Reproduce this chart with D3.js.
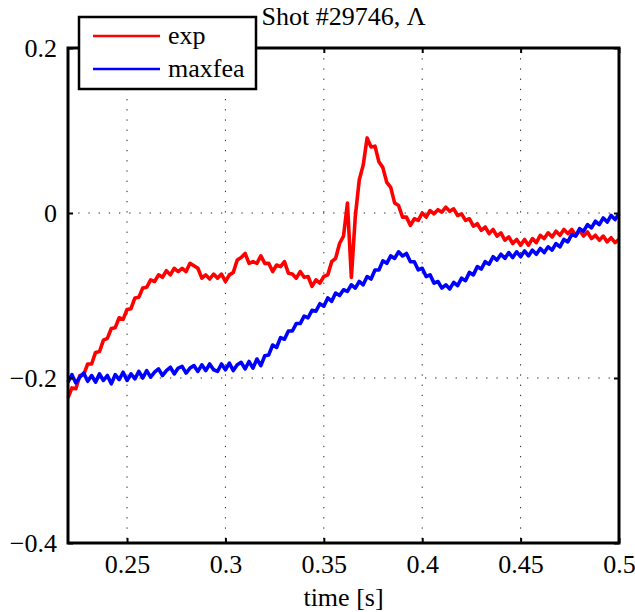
<!DOCTYPE html>
<html>
<head>
<meta charset="utf-8">
<script src="https://cdn.jsdelivr.net/npm/d3@7"></script>
<style>
  body { margin: 0; background: #fff; }
  svg text { font-family: "Liberation Serif", "Times New Roman", Times, "DejaVu Serif", serif; }
</style>
</head>
<body>
<script>
// Sampling of both traces: t = tStart + i * tStep
const tStart = 0.22;
const tStep = 0.002;

// exp trace (red)
const expValues = [
  -0.224, -0.212, -0.213, -0.197, -0.196, -0.183, -0.183, -0.169, -0.168, -0.154,
  -0.152, -0.140, -0.139, -0.127, -0.129, -0.117, -0.116, -0.103, -0.102, -0.091,
  -0.090, -0.081, -0.083, -0.075, -0.078, -0.070, -0.075, -0.067, -0.071, -0.067,
  -0.071, -0.061, -0.064, -0.067, -0.079, -0.075, -0.080, -0.074, -0.079, -0.074,
  -0.083, -0.075, -0.072, -0.057, -0.054, -0.049, -0.061, -0.059, -0.061, -0.052,
  -0.061, -0.061, -0.071, -0.063, -0.065, -0.059, -0.073, -0.074, -0.079, -0.071,
  -0.078, -0.077, -0.089, -0.081, -0.085, -0.077, -0.075, -0.059, -0.055, -0.037,
  -0.028, 0.012, -0.078, -0.004, 0.040, 0.058, 0.091, 0.080, 0.081, 0.062,
  0.055, 0.037, 0.031, 0.012, 0.009, -0.005, -0.005, -0.015, -0.007, -0.009,
  0.000, -0.005, 0.003, -0.001, 0.004, 0.001, 0.007, 0.002, 0.005, -0.003,
  -0.001, -0.009, -0.007, -0.016, -0.013, -0.021, -0.017, -0.025, -0.020, -0.028,
  -0.024, -0.033, -0.029, -0.037, -0.032, -0.039, -0.032, -0.039, -0.031, -0.036,
  -0.027, -0.031, -0.024, -0.029, -0.022, -0.027, -0.020, -0.025, -0.020, -0.027,
  -0.021, -0.028, -0.023, -0.031, -0.027, -0.033, -0.028, -0.035, -0.030, -0.036,
  -0.032
];

// maxfea trace (blue)
const maxfeaValues = [
  -0.205, -0.196, -0.206, -0.199, -0.194, -0.204, -0.197, -0.205, -0.195, -0.203,
  -0.197, -0.207, -0.196, -0.202, -0.193, -0.203, -0.195, -0.201, -0.192, -0.200,
  -0.191, -0.199, -0.193, -0.189, -0.197, -0.191, -0.187, -0.195, -0.188, -0.186,
  -0.194, -0.188, -0.185, -0.192, -0.184, -0.191, -0.183, -0.190, -0.192, -0.183,
  -0.190, -0.182, -0.191, -0.184, -0.181, -0.189, -0.180, -0.188, -0.177, -0.185,
  -0.173, -0.172, -0.160, -0.163, -0.151, -0.153, -0.143, -0.143, -0.134, -0.134,
  -0.125, -0.127, -0.118, -0.119, -0.110, -0.113, -0.103, -0.107, -0.097, -0.100,
  -0.093, -0.095, -0.087, -0.091, -0.083, -0.087, -0.077, -0.080, -0.069, -0.069,
  -0.058, -0.061, -0.052, -0.055, -0.047, -0.052, -0.049, -0.059, -0.059, -0.069,
  -0.067, -0.077, -0.075, -0.085, -0.083, -0.091, -0.087, -0.092, -0.084, -0.088,
  -0.079, -0.082, -0.072, -0.075, -0.065, -0.068, -0.059, -0.062, -0.053, -0.057,
  -0.050, -0.055, -0.048, -0.054, -0.047, -0.053, -0.046, -0.052, -0.045, -0.050,
  -0.043, -0.048, -0.041, -0.045, -0.037, -0.041, -0.032, -0.035, -0.026, -0.028,
  -0.019, -0.022, -0.014, -0.018, -0.010, -0.014, -0.006, -0.011, -0.003, -0.008,
  -0.001
];

const xTicks = [0.25, 0.3, 0.35, 0.4, 0.45, 0.5];
const yTicks = [0.2, 0, -0.2, -0.4];
const seriesNames = ["exp", "maxfea"];
const seriesColors = ["#ff0000", "#0000ff"];

const width = 635, height = 612;
const plotLeft = 68, plotRight = 619, plotTop = 48, plotBottom = 543;
const fontSize = 26;
const serif = "'Liberation Serif', 'Times New Roman', Times, 'DejaVu Serif', serif";

const svg = d3.select("body").append("svg")
    .attr("width", width)
    .attr("height", height)
    .attr("font-family", serif);

const x = d3.scaleLinear().domain([0.22, 0.5]).range([plotLeft, plotRight]);
const y = d3.scaleLinear().domain([-0.4, 0.2]).range([plotBottom, plotTop]);

// Dotted grid
svg.append("g")
    .selectAll("line")
    .data(xTicks.slice(0, -1))
    .join("line")
    .attr("x1", d => x(d)).attr("x2", d => x(d))
    .attr("y1", plotTop).attr("y2", plotBottom)
    .attr("stroke", "#222").attr("stroke-width", 1)
    .attr("stroke-dasharray", "1.3,8.9");
svg.append("g")
    .selectAll("line")
    .data(yTicks.slice(1, -1))
    .join("line")
    .attr("x1", plotLeft).attr("x2", plotRight)
    .attr("y1", d => y(d)).attr("y2", d => y(d))
    .attr("stroke", "#222").attr("stroke-width", 1)
    .attr("stroke-dasharray", "1.3,8.9");

// Lines
const line = d3.line()
    .x((d, i) => x(tStart + i * tStep))
    .y(d => y(d));

[expValues, maxfeaValues].forEach((vals, k) => {
    svg.append("path")
        .datum(vals)
        .attr("fill", "none")
        .attr("stroke", seriesColors[k])
        .attr("stroke-width", 3.6)
        .attr("stroke-linejoin", "round")
        .attr("d", line);
});

// Axes with inward ticks on all four sides
function styleAxis(g) {
    g.attr("font-family", serif).attr("font-size", fontSize);
    g.select(".domain").remove();
    g.selectAll(".tick line").attr("stroke", "#000").attr("stroke-width", 2);
    g.selectAll(".tick text").attr("fill", "#000");
}

const fmt = d => d === 0 ? "0" : (d < 0 ? "\u2212" : "") + String(Math.abs(d));

svg.append("g")
    .attr("transform", `translate(0,${plotBottom})`)
    .call(d3.axisBottom(x).tickValues(xTicks).tickSize(-5).tickPadding(12).tickFormat(fmt))
    .call(styleAxis)
    .selectAll(".tick text").attr("dy", "0.71em");

svg.append("g")
    .attr("transform", `translate(0,${plotTop})`)
    .call(d3.axisTop(x).tickValues(xTicks).tickSize(-5).tickFormat(""))
    .call(styleAxis);

svg.append("g")
    .attr("transform", `translate(${plotLeft},0)`)
    .call(d3.axisLeft(y).tickValues(yTicks).tickSize(-5).tickPadding(11).tickFormat(fmt))
    .call(styleAxis);

svg.append("g")
    .attr("transform", `translate(${plotRight},0)`)
    .call(d3.axisRight(y).tickValues(yTicks).tickSize(-5).tickFormat(""))
    .call(styleAxis);

// Frame
svg.append("rect")
    .attr("x", plotLeft).attr("y", plotTop)
    .attr("width", plotRight - plotLeft).attr("height", plotBottom - plotTop)
    .attr("fill", "none").attr("stroke", "#000").attr("stroke-width", 3);

// Title and x label
svg.append("text")
    .attr("x", (plotLeft + plotRight) / 2).attr("y", 25)
    .attr("text-anchor", "middle")
    .attr("font-size", fontSize)
    .text("Shot #29746, \u039B");

svg.append("text")
    .attr("x", (plotLeft + plotRight) / 2).attr("y", 606)
    .attr("text-anchor", "middle")
    .attr("font-size", fontSize)
    .text("time [s]");

// Legend
const legend = svg.append("g").attr("transform", "translate(79,17)");
legend.append("rect")
    .attr("width", 177).attr("height", 72)
    .attr("fill", "#fff").attr("stroke", "#000").attr("stroke-width", 2.5);
seriesNames.forEach((name, k) => {
    const ly = 19 + k * 33;
    legend.append("line")
        .attr("x1", 14).attr("x2", 81)
        .attr("y1", ly).attr("y2", ly)
        .attr("stroke", seriesColors[k]).attr("stroke-width", 2.5);
    legend.append("text")
        .attr("x", 89).attr("y", ly + 8)
        .attr("font-size", fontSize)
        .text(name);
});
</script>
</body>
</html>
